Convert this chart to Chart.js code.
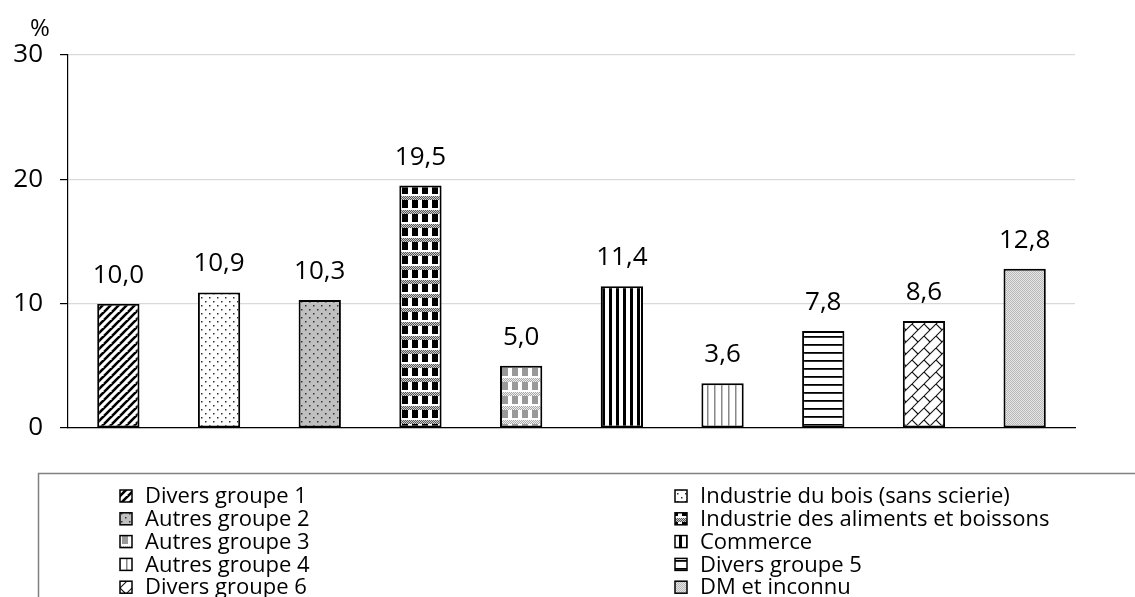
<!DOCTYPE html>
<html>
<head>
<meta charset="utf-8">
<script src="https://cdn.jsdelivr.net/npm/chart.js@4.4.1/dist/chart.umd.min.js"></script>
<style>
  html, body { margin: 0; padding: 0; background: #fff; }
  #wrap { width: 1135px; height: 597px; }
</style>
</head>
<body>
<div id="wrap"><canvas id="branchChart"></canvas></div>
<script>
const categories = [
  'Divers groupe 1', 'Industrie du bois (sans scierie)',
  'Autres groupe 2', 'Industrie des aliments et boissons',
  'Autres groupe 3', 'Commerce',
  'Autres groupe 4', 'Divers groupe 5',
  'Divers groupe 6', 'DM et inconnu'
];
const shares = [10.0, 10.9, 10.3, 19.5, 5.0, 11.4, 3.6, 7.8, 8.6, 12.8];
const yTicks = [0, 10, 20, 30];

const FONT = '"Open Sans", "Liberation Sans", sans-serif';
const canvas = document.getElementById('branchChart');
const ctx = canvas.getContext('2d');

// small tiles used as bar fills
function tile(w, h, draw) {
  const c = document.createElement('canvas');
  c.width = w; c.height = h;
  const g = c.getContext('2d');
  draw(g, w, h);
  return ctx.createPattern(c, 'repeat');
}

const patterns = [
  // diagonal thick stripes
  tile(8, 8, (g) => {
    g.fillStyle = '#fff'; g.fillRect(0, 0, 8, 8);
    g.strokeStyle = '#000'; g.lineWidth = 2.6;
    for (let k = -8; k <= 16; k += 8) {
      g.beginPath(); g.moveTo(k - 8, 8); g.lineTo(k + 8, -8); g.stroke();
    }
  }),
  // sparse dots on white
  tile(8, 8, (g) => {
    g.fillStyle = '#fff'; g.fillRect(0, 0, 8, 8);
    g.fillStyle = '#333'; g.fillRect(1, 1, 1.5, 1.5); g.fillRect(5, 5, 1.5, 1.5);
  }),
  // sparse dots on grey
  tile(8, 8, (g) => {
    g.fillStyle = '#c0c0c0'; g.fillRect(0, 0, 8, 8);
    g.fillStyle = '#333'; g.fillRect(1, 1, 1.5, 1.5); g.fillRect(5, 5, 1.5, 1.5);
  }),
  // black plaid
  tile(10, 14, (g) => {
    g.fillStyle = '#fff'; g.fillRect(0, 0, 10, 14);
    g.fillStyle = '#000'; g.fillRect(2, 4, 6, 8);
    for (let x = 0; x < 10; x++) for (let y = 0; y < 4; y++) {
      g.fillStyle = (x + y) % 2 ? '#555' : '#ccc'; g.fillRect(x, y, 1, 1);
    }
  }),
  // grey plaid
  tile(10, 14, (g) => {
    g.fillStyle = '#fff'; g.fillRect(0, 0, 10, 14);
    g.fillStyle = '#999'; g.fillRect(2, 4, 6, 8);
    for (let x = 0; x < 10; x++) for (let y = 0; y < 4; y++) {
      g.fillStyle = (x + y) % 2 ? '#aaa' : '#eee'; g.fillRect(x, y, 1, 1);
    }
  }),
  // thick vertical stripes
  tile(7, 4, (g) => {
    g.fillStyle = '#fff'; g.fillRect(0, 0, 7, 4);
    g.fillStyle = '#000'; g.fillRect(0, 0, 3, 4);
  }),
  // thin vertical grey lines
  tile(7, 4, (g) => {
    g.fillStyle = '#fff'; g.fillRect(0, 0, 7, 4);
    g.fillStyle = '#888'; g.fillRect(0, 0, 1.5, 4);
  }),
  // horizontal lines
  tile(4, 8, (g) => {
    g.fillStyle = '#fff'; g.fillRect(0, 0, 4, 8);
    g.fillStyle = '#000'; g.fillRect(0, 0, 4, 1.8);
  }),
  // diagonal brick
  tile(12, 12, (g) => {
    g.fillStyle = '#fff'; g.fillRect(0, 0, 12, 12);
    g.strokeStyle = '#111'; g.lineWidth = 1.1;
    g.beginPath(); g.moveTo(0, 12); g.lineTo(12, 0); g.stroke();
    g.beginPath(); g.moveTo(0, 0); g.lineTo(6, 6); g.stroke();
    g.beginPath(); g.moveTo(6, 18); g.lineTo(12, 12); g.stroke();
  }),
  // fine light grey texture
  tile(2, 2, (g) => {
    g.fillStyle = '#e6e6e6'; g.fillRect(0, 0, 2, 2);
    g.fillStyle = '#b8b8b8'; g.fillRect(0, 0, 1, 1); g.fillRect(1, 1, 1, 1);
  })
];

const valueLabels = {
  id: 'valueLabels',
  afterDatasetsDraw(chart) {
    const c = chart.ctx;
    const meta = chart.getDatasetMeta(0);
    c.save();
    c.font = '26px ' + FONT;
    c.fillStyle = '#000';
    c.textAlign = 'center';
    c.textBaseline = 'alphabetic';
    meta.data.forEach((bar, i) => {
      c.fillText(shares[i].toFixed(1).replace('.', ','), bar.x, bar.y - 21);
    });
    c.restore();
  }
};

const extras = {
  id: 'extras',
  afterDraw(chart) {
    const c = chart.ctx;
    c.save();
    // unit label
    c.font = '24px ' + FONT;
    c.fillStyle = '#000';
    c.textAlign = 'center';
    c.fillText('%', 40, 36);

    // legend box
    c.strokeStyle = '#808080';
    c.lineWidth = 1.5;
    c.strokeRect(38.5, 473.5, 1120, 140);

    c.font = '22px ' + FONT;
    c.textAlign = 'left';
    c.textBaseline = 'middle';
    categories.forEach((name, i) => {
      const col = i % 2, row = Math.floor(i / 2);
      const x = col ? 675 : 120;
      const y = 496 + row * 22.8;
      c.fillStyle = patterns[i];
      c.fillRect(x, y - 6, 12, 12);
      c.strokeStyle = '#000';
      c.lineWidth = 1.5;
      c.strokeRect(x, y - 6, 12, 12);
      c.fillStyle = '#000';
      c.fillText(name, x + 25, y + 1);
    });
    c.restore();
  }
};

new Chart(canvas, {
  type: 'bar',
  data: {
    labels: categories,
    datasets: [{
      data: shares,
      backgroundColor: patterns,
      borderColor: '#000',
      borderWidth: 2,
      borderSkipped: false,
      barPercentage: 0.42,
      categoryPercentage: 1
    }]
  },
  options: {
    responsive: true,
    maintainAspectRatio: false,
    animation: false,
    layout: { padding: { top: 55, right: 60, bottom: 169, left: 0 } },
    plugins: {
      legend: { display: false },
      tooltip: { enabled: false }
    },
    scales: {
      x: {
        ticks: { display: false },
        grid: { display: false },
        border: { color: '#000', width: 1.2 },
        afterFit: (s) => { s.height = 0; }
      },
      y: {
        min: 0,
        max: 30,
        afterBuildTicks: (s) => { s.ticks = yTicks.map(v => ({ value: v })); },
        afterFit: (s) => { s.width = 68; },
        ticks: {
          color: '#000',
          padding: 17,
          font: { family: FONT, size: 26 }
        },
        grid: { color: '#d9d9d9', tickColor: '#000', tickLength: 8, lineWidth: 1.2 },
        border: { color: '#000', width: 1.2 }
      }
    }
  },
  plugins: [valueLabels, extras]
});
</script>
</body>
</html>
